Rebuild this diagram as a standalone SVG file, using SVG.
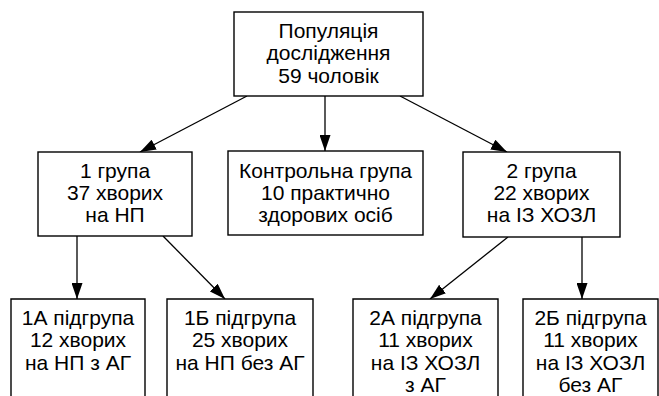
<svg xmlns="http://www.w3.org/2000/svg" width="659" height="396" viewBox="0 0 659 396">
<defs>
<marker id="ah" markerWidth="16" markerHeight="11" refX="16" refY="5.5" orient="auto" markerUnits="userSpaceOnUse">
<path d="M0,0 L16,5.5 L0,11 Z" fill="#000"/>
</marker>
<style>
.box{fill:#fff;stroke:#000;stroke-width:1.4}
.t{font-family:"Liberation Sans",Arial,sans-serif;font-size:21px;fill:#000;text-anchor:middle}
.c{stroke:#000;stroke-width:1.3;fill:none;marker-end:url(#ah)}
</style>
</defs>
<rect width="659" height="396" fill="#fff"/>
<g id="connectors">
<line class="c" x1="247" y1="96" x2="140" y2="152"/>
<line class="c" x1="325" y1="96" x2="325" y2="151"/>
<line class="c" x1="400" y1="96" x2="507" y2="152"/>
<line class="c" x1="77" y1="236" x2="77" y2="299"/>
<line class="c" x1="163" y1="236" x2="225" y2="299"/>
<line class="c" x1="508" y1="237" x2="430" y2="299"/>
<line class="c" x1="582" y1="237" x2="582" y2="299"/>
</g>
<g id="root">
<rect class="box" x="234" y="12" width="189" height="84"/>
<text class="t" x="328.5" y="37.5">Популяція</text>
<text class="t" x="328.5" y="60">дослідження</text>
<text class="t" x="328.5" y="82.5">59 чоловік</text>
</g>
<g id="group1">
<rect class="box" x="38" y="152" width="154" height="84"/>
<text class="t" x="115" y="177.5">1 група</text>
<text class="t" x="115" y="199.5">37 хворих</text>
<text class="t" x="115" y="221.5">на НП</text>
</g>
<g id="control">
<rect class="box" x="228" y="151" width="195" height="84"/>
<text class="t" x="325.5" y="177.5">Контрольна група</text>
<text class="t" x="325.5" y="199.5">10 практично</text>
<text class="t" x="325.5" y="221.5">здорових осіб</text>
</g>
<g id="group2">
<rect class="box" x="463" y="152" width="157" height="85"/>
<text class="t" x="541.5" y="177.5">2 група</text>
<text class="t" x="541.5" y="199.5">22 хворих</text>
<text class="t" x="541.5" y="221.5">на ІЗ ХОЗЛ</text>
</g>
<g id="sub1A">
<path class="box" d="M11,400 V299 H145 V400"/>
<text class="t" x="78" y="324.5">1А підгрупа</text>
<text class="t" x="78" y="347">12 хворих</text>
<text class="t" x="78" y="369.5">на НП з АГ</text>
</g>
<g id="sub1B">
<path class="box" d="M167,400 V299 H313 V400"/>
<text class="t" x="240" y="324.5">1Б підгрупа</text>
<text class="t" x="240" y="347">25 хворих</text>
<text class="t" x="240" y="369.5">на НП без АГ</text>
</g>
<g id="sub2A">
<path class="box" d="M353,400 V299 H498 V400"/>
<text class="t" x="425.5" y="324.5">2А підгрупа</text>
<text class="t" x="425.5" y="347">11 хворих</text>
<text class="t" x="425.5" y="369.5">на ІЗ ХОЗЛ</text>
<text class="t" x="425.5" y="391.5">з АГ</text>
</g>
<g id="sub2B">
<path class="box" d="M523,400 V299 H658 V400"/>
<text class="t" x="590.5" y="324.5">2Б підгрупа</text>
<text class="t" x="590.5" y="347">11 хворих</text>
<text class="t" x="590.5" y="369.5">на ІЗ ХОЗЛ</text>
<text class="t" x="590.5" y="391.5">без АГ</text>
</g>
</svg>
